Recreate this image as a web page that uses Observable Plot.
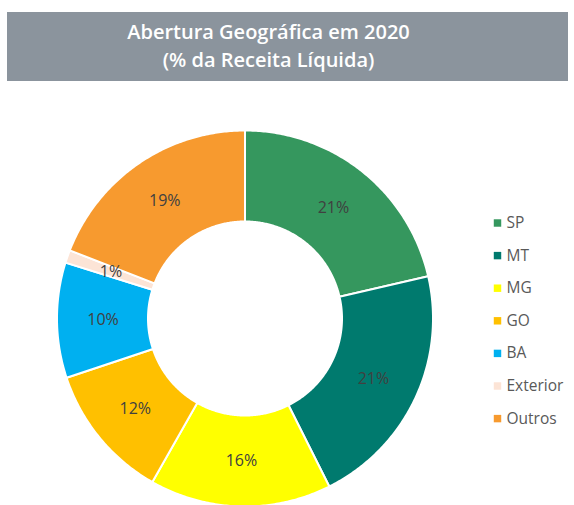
<!DOCTYPE html>
<html>
<head>
<meta charset="utf-8">
<script src="https://cdn.jsdelivr.net/npm/d3@7"></script>
<script src="https://cdn.jsdelivr.net/npm/@observablehq/plot@0.6"></script>
<style>
  html, body { margin: 0; padding: 0; background: #fff; }
  #wrap { position: relative; width: 574px; height: 505px; overflow: hidden; }
  #title { position: absolute; left: 7px; top: 12px; width: 561px; height: 69px;
           background: #8b949d; color: #fff; font-family: "Open Sans", sans-serif;
           font-weight: 600; font-size: 20px; line-height: 28px; text-align: center;
           box-sizing: border-box; padding-top: 6px; padding-right: 38px; }
  #chart { position: absolute; left: 0; top: 0; }
</style>
</head>
<body>
<div id="wrap">
  <div id="chart"></div>
  <div id="title">Abertura Geográfica em 2020<br>(% da Receita Líquida)</div>
</div>
<script>
const categories = ["SP", "MT", "MG", "GO", "BA", "Exterior", "Outros"];
const shares = [21.4, 21.2, 15.6, 11.7, 9.9, 1.1, 19.1];
const labels = ["21%", "21%", "16%", "12%", "10%", "1%", "19%"];
const colors = ["#35975e", "#007a6e", "#ffff00", "#ffc000", "#00b0f0", "#fce4d6", "#f79a2f"];

const W = 574, H = 505;
const cx = 244.5, cy = 318;
const R = 188, r0 = 97, rl = 142;

const pie = d3.pie().sort(null).value(d => d)(shares);
const polys = [];
const lab = [];
pie.forEach((p, i) => {
  const a0 = p.startAngle, a1 = p.endAngle;
  const n = Math.max(4, Math.ceil((a1 - a0) / 0.01));
  const pts = [];
  for (let k = 0; k <= n; k++) { const a = a0 + (a1 - a0) * k / n; pts.push([R * Math.sin(a), R * Math.cos(a)]); }
  for (let k = n; k >= 0; k--) { const a = a0 + (a1 - a0) * k / n; pts.push([r0 * Math.sin(a), r0 * Math.cos(a)]); }
  pts.push(pts[0]);
  pts.forEach(([x, y]) => polys.push({cat: categories[i], x, y}));
  const m = (a0 + a1) / 2;
  lab.push({text: labels[i], x: rl * Math.sin(m), y: rl * Math.cos(m)});
});

const legendX = 497 - cx;
const legend = categories.map((c, i) => ({cat: c, x: legendX, y: cy - (222.5 + i * 32.6)}));

const chart = Plot.plot({
  width: W, height: H,
  margin: 0,
  x: {domain: [-cx, W - cx], range: [0, W], axis: null},
  y: {domain: [cy - H, cy], range: [H, 0], axis: null},
  color: {domain: categories, range: colors},
  style: {fontFamily: "'Open Sans', sans-serif", background: "transparent"},
  marks: [
    Plot.line(polys, {x: "x", y: "y", z: "cat", fill: "cat", stroke: "#fff", strokeWidth: 2, curve: "linear"}),
    Plot.text(lab, {x: "x", y: "y", text: "text", fill: "#404040", fontSize: 16}),
    Plot.dot(legend, {x: "x", y: "y", fill: "cat", symbol: "square", r: 4.2}),
    Plot.text(legend, {x: "x", y: "y", text: "cat", dx: 9, textAnchor: "start", fill: "#595959", fontSize: 15.5})
  ]
});
document.getElementById("chart").appendChild(chart);
</script>
</body>
</html>
